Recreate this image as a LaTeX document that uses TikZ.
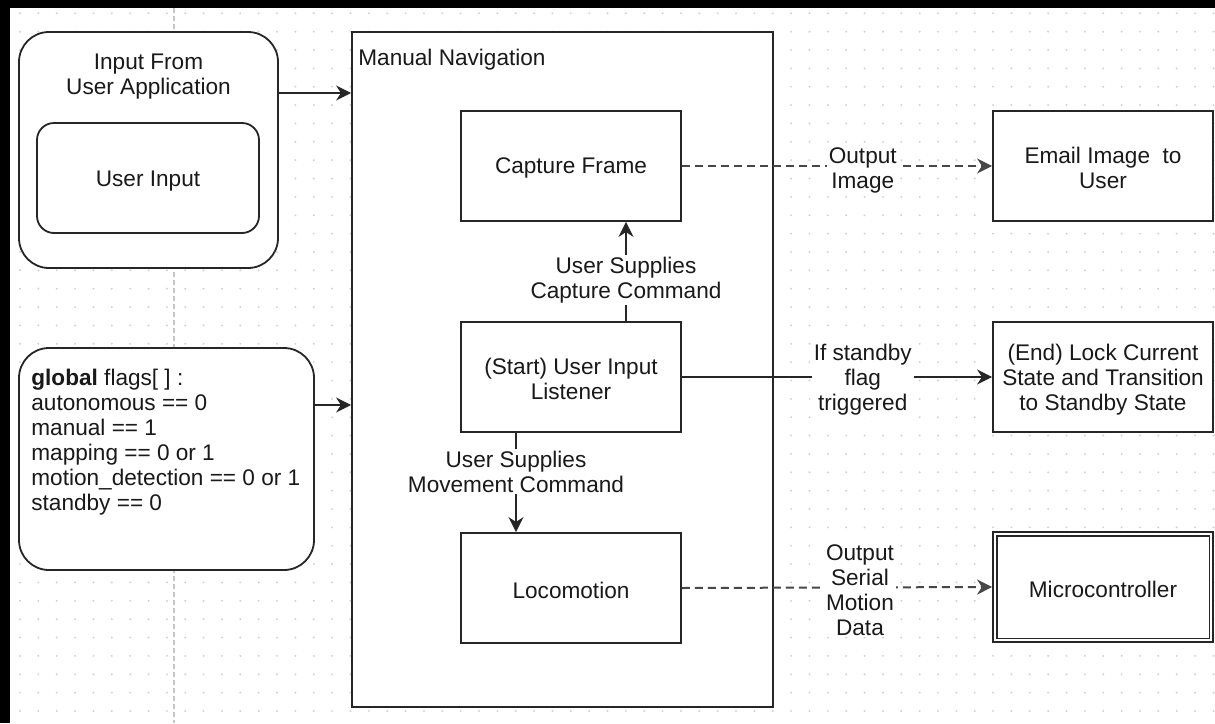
\documentclass[tikz,border=0pt]{standalone}
\usepackage{fontspec}
\setmainfont{Liberation Sans}
\usetikzlibrary{arrows.meta,calc}

\begin{document}
\begin{tikzpicture}[x=0.5pt,y=-0.5pt,
  txt/.style={font=\fontsize{11.3}{12.5}\selectfont, align=center, text=black!90},
  box/.style={draw=black!85, line width=0.9pt, fill=white, minimum width=110pt, minimum height=55pt, inner sep=0pt},
  boxed/.style={box, label={[txt, yshift=-1.2pt]center:#1}},
  roundbox/.style={draw=black!85, line width=0.9pt, fill=white, rounded corners=15pt, inner sep=0pt},
  edgelabel/.style={txt, fill=white, inner sep=1pt},
  conn/.style={draw=black!85, line width=0.9pt, -{Stealth[length=7.5pt,width=7.5pt,inset=2.4pt]}},
  dashconn/.style={conn, draw=black!72, line width=1pt, dash pattern=on 4pt off 2.5pt},
]
\useasboundingbox (0,0) rectangle (1215,723);
\fill[white] (0,0) rectangle (1215,723);

% dotted background grid
\foreach \i in {0,...,65}
  \foreach \j in {0,...,38}
    \fill[gray!35] (20+18.36*\i, 13.3+18.36*\j) circle (0.55pt);

% page break guide
\draw[gray!45, line width=1.2pt, dash pattern=on 2.5pt off 1.5pt] (174,0) -- (174,723);

% dark frame edges
\fill[black] (0,0) rectangle (1215,8);
\fill[black] (0,0) rectangle (10,723);

% user application input
\node[roundbox, minimum width=129.5pt, minimum height=118pt] (app) at (148.5,150) {};
\node[txt] (apptitle) at (148.5,77) {Input From\\User Application};
\node[roundbox, rounded corners=8.5pt, minimum width=111pt, minimum height=55pt,
      label={[txt, yshift=-1.5pt]center:User Input}] (userin) at (148,178) {};

% global flags
\node[roundbox, minimum width=147.5pt, minimum height=111pt] (flags) at (166.5,459) {};
\node[txt, align=left, anchor=west, inner sep=0pt] (flagtext) at (31,442.5)
  {\textbf{global} flags[ ] :\\autonomous == 0\\manual == 1\\mapping == 0 or 1\\motion\_detection == 0 or 1\\standby == 0};

% manual navigation container
\node[box, minimum width=210.5pt, minimum height=337.5pt] (nav) at (562.5,369.5) {};
\node[txt, anchor=west, inner sep=0pt] (navtitle) at (358,60) {Manual Navigation};

% states
\node[boxed={Capture Frame}] (capture) at (571,166) {};
\node[boxed={(Start) User Input\\Listener}] (listener) at (571,377) {};
\node[boxed={Locomotion}] (loco) at (571,588) {};

% outputs
\node[boxed={Email Image\ \ to\\User}] (email) at (1103,166) {};
\node[boxed={(End) Lock Current\\State and Transition\\to Standby State}] (standby) at (1103,377) {};
\node[boxed={Microcontroller}] (micro) at (1103,587) {};
\draw[black!85, line width=0.9pt] ($(micro.north west)+(4.5,4.5)$) rectangle ($(micro.south east)+(-4.5,-4.5)$);

% connectors
\draw[conn] ([yshift=28.5pt]app.east) -- ([yshift=28.5pt]app.east -| nav.west);
\draw[conn] ([yshift=27pt]flags.east) -- ([yshift=27pt]flags.east -| nav.west);
\draw[conn] ([xshift=27.5pt]listener.north) -- node[edgelabel, pos=0.416] {User Supplies\\Capture Command} ([xshift=27.5pt]capture.south);
\draw[conn] ([xshift=-27.5pt]listener.south) -- node[edgelabel, pos=0.39] {User Supplies\\Movement Command} ([xshift=-27.5pt]loco.north);
\draw[dashconn] (capture.east) -- node[edgelabel, pos=0.583, yshift=-2pt] {Output\\Image} (email.west);
\draw[conn] (listener.east) -- node[edgelabel, pos=0.583, yshift=-1.5pt] {If standby\\flag\\triggered} (standby.west);
\draw[dashconn] (loco.east) -- node[edgelabel, pos=0.574, yshift=-1.2pt] {Output\\Serial\\Motion\\Data} (micro.west);
\end{tikzpicture}
\end{document}
